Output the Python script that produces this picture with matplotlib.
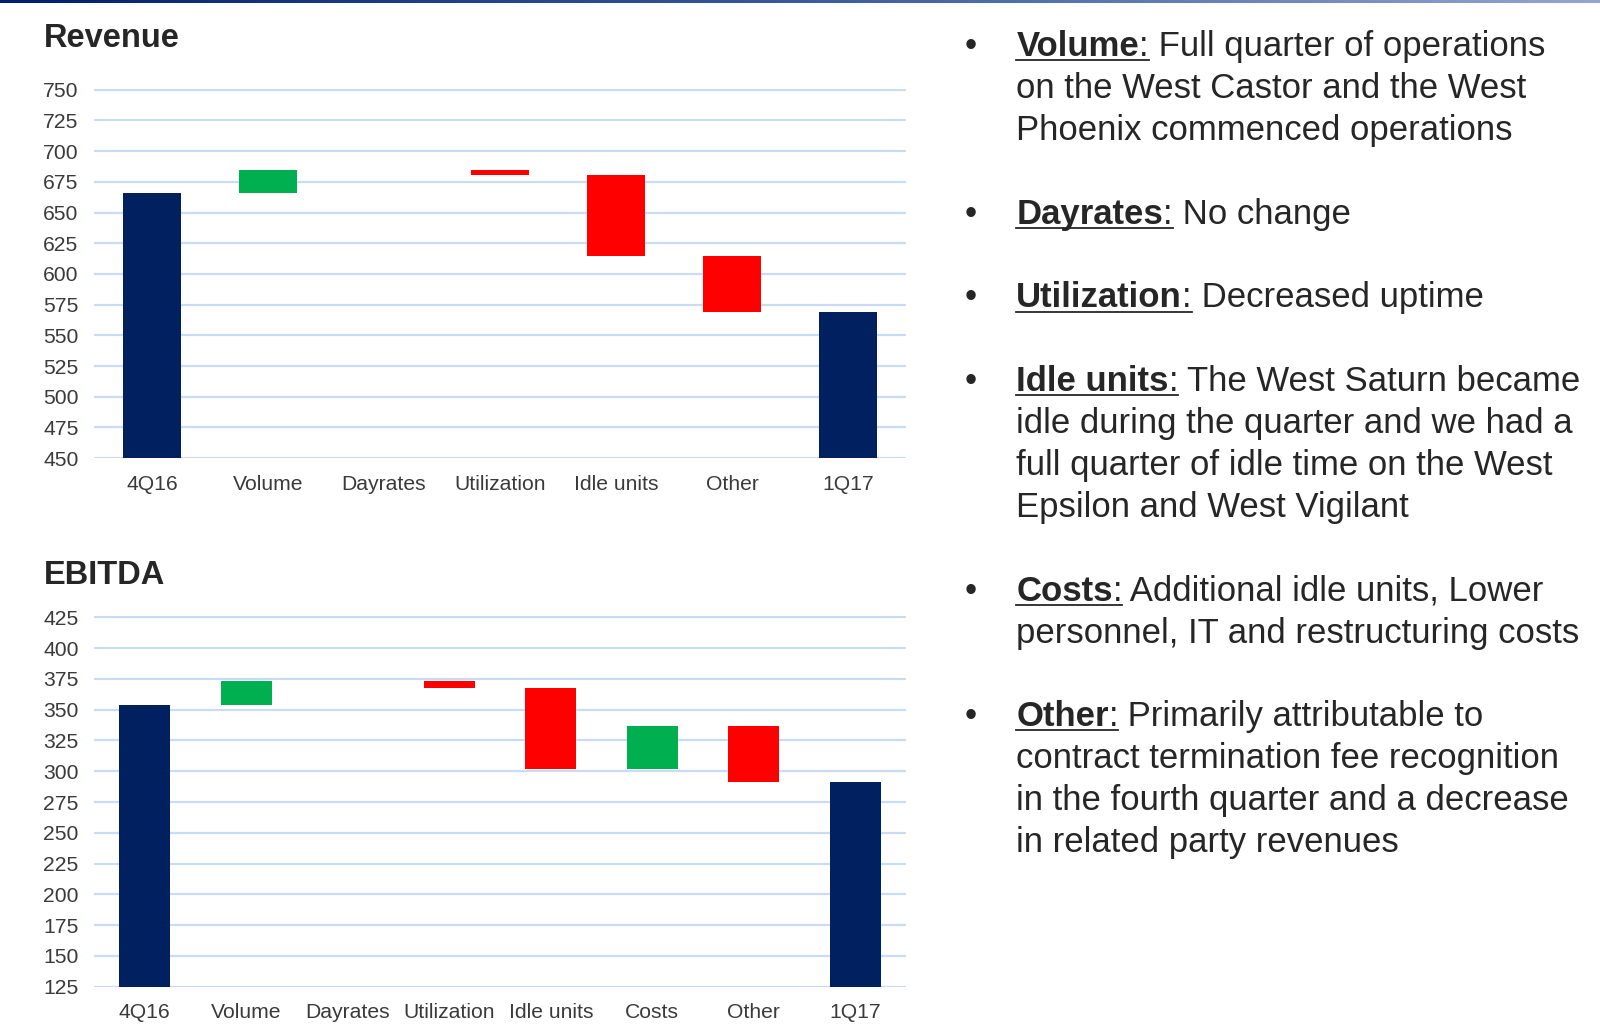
import numpy as np
import matplotlib
matplotlib.use("Agg")
import matplotlib.pyplot as plt
from matplotlib.colors import LinearSegmentedColormap
from matplotlib.lines import Line2D

plt.rcParams['font.family'] = ['Liberation Sans', 'DejaVu Sans']

# revenue bridge 4Q16 -> 1Q17
rev_labels = ["4Q16", "Volume", "Dayrates", "Utilization", "Idle units", "Other", "1Q17"]
rev_start = 666
rev_deltas = [19, 0, -4, -66, -46]
rev_end = 569

# ebitda bridge
ebitda_labels = ["4Q16", "Volume", "Dayrates", "Utilization", "Idle units", "Costs", "Other", "1Q17"]
ebitda_start = 354
ebitda_deltas = [19, 0, -5, -66, 35, -46]
ebitda_end = 291

rev_ticks = list(range(450, 751, 25))
ebitda_ticks = list(range(125, 426, 25))

bullets = [
    ("Volume", ["Full quarter of operations",
                "on the West Castor and the West",
                "Phoenix commenced operations"]),
    ("Dayrates", ["No change"]),
    ("Utilization", ["Decreased uptime"]),
    ("Idle units", ["The West Saturn became",
                    "idle during the quarter and we had a",
                    "full quarter of idle time on the West",
                    "Epsilon and West Vigilant"]),
    ("Costs", ["Additional idle units, Lower",
               "personnel, IT and restructuring costs"]),
    ("Other", ["Primarily attributable to",
               "contract termination fee recognition",
               "in the fourth quarter and a decrease",
               "in related party revenues"]),
]

NAVY = '#002060'
GREEN = '#00B050'
RED = '#FF0000'
GRID = '#C9DBF5'
TXT = '#3A3A3A'
DARK = '#262626'

W, H = 1600, 1027
S = 1600 / 1568   # layout measured on a 1568 px wide copy
fig = plt.figure(figsize=(W / 100, H / 100), dpi=100)


def px(x, y):
    return x * S / W, 1 - y * S / H


def waterfall(ax, labels, start, deltas, end, ticks):
    x = np.arange(len(labels))
    bottoms = [0]
    heights = [start]
    colors = [NAVY]
    level = start
    for d in deltas:
        bottoms.append(min(level, level + d))
        heights.append(abs(d))
        colors.append(GREEN if d > 0 else RED)
        level += d
    bottoms.append(0)
    heights.append(end)
    colors.append(NAVY)
    ax.bar(x, heights, bottom=bottoms, width=0.5, color=colors, linewidth=0, zorder=3)
    ax.set_xlim(-0.5, len(labels) - 0.5)
    ax.set_ylim(ticks[0], ticks[-1] + 1)
    ax.set_yticks(ticks)
    ax.set_xticks(x)
    ax.set_xticklabels(labels)
    ax.tick_params(length=0, labelsize=15.2, labelcolor=TXT)
    ax.tick_params(axis='y', pad=11)
    ax.tick_params(axis='x', pad=12)
    ax.grid(axis='y', color=GRID, linewidth=1.6)
    ax.set_axisbelow(True)
    for s in ax.spines.values():
        s.set_visible(False)


def add_axes_px(left, right, bottom, height):
    l, b = px(left, bottom)
    return fig.add_axes([l, b, (right - left) * S / W, height * S / H])


ax1 = add_axes_px(92, 888, 449, 362.2)
waterfall(ax1, rev_labels, rev_start, rev_deltas, rev_end, rev_ticks)

ax2 = add_axes_px(92, 888, 967, 363.2)
waterfall(ax2, ebitda_labels, ebitda_start, ebitda_deltas, ebitda_end, ebitda_ticks)

fig.text(*px(43, 46), "Revenue", fontsize=23.5, fontweight='bold', color=DARK)
fig.text(*px(43, 572), "EBITDA", fontsize=23.5, fontweight='bold', color=DARK)

# top gradient band
band = fig.add_axes([0, 1 - 3 / H, 1, 3 / H])
cmap = LinearSegmentedColormap.from_list('band', ['#002070', '#3A5A9C', '#93A6CE'])
band.imshow(np.linspace(0, 1, 256).reshape(1, -1), cmap=cmap, aspect='auto')
band.axis('off')

# bullet text
renderer = fig.canvas.get_renderer()
fs = 25
x0 = 996
y0, dy = 55, 41.05
line = 0
for head, lines in bullets:
    y = y0 + dy * line
    fig.text(*px(945, y), "\u2022", fontsize=fs, color=DARK, va='baseline')
    t = fig.text(*px(x0, y), head, fontsize=fs, fontweight='bold', color=DARK, va='baseline')
    w1 = t.get_window_extent(renderer).width / S
    c = fig.text(*px(x0 + w1, y), ":", fontsize=fs, color=DARK, va='baseline')
    w2 = c.get_window_extent(renderer).width / S
    fig.text(*px(x0 + w1 + w2, y), " " + lines[0], fontsize=fs, color=DARK, va='baseline')
    ux0, uy = px(x0, y + 4)
    ux1, _ = px(x0 + w1 + w2, y + 4)
    fig.add_artist(Line2D([ux0, ux1], [uy, uy], color=DARK, linewidth=1.3,
                          transform=fig.transFigure))
    for k, txt in enumerate(lines[1:], start=1):
        fig.text(*px(x0, y0 + dy * (line + k)), txt, fontsize=fs, color=DARK, va='baseline')
    line += len(lines) + 1

fig.savefig("out.png", dpi=100)
